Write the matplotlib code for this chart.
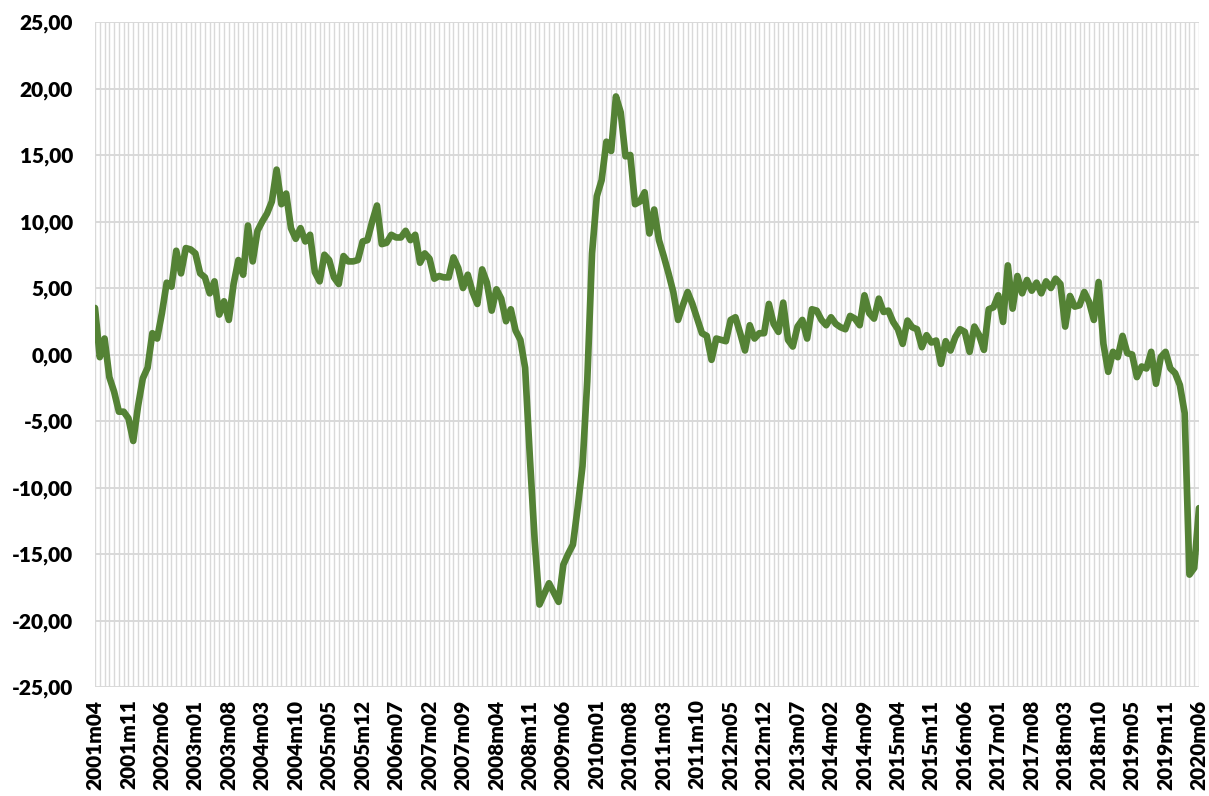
import matplotlib
matplotlib.use("Agg")
import matplotlib.pyplot as plt
from matplotlib.ticker import FuncFormatter, FixedLocator

# ---- data -------------------------------------------------------------
values_2001_2004 = [3.5, -0.2, 1.2, -1.7, -2.8, -4.3, -4.3, -4.8, -6.5, -3.9,
                    -1.8, -1.0, 1.6, 1.2, 3.1, 5.4, 5.1, 7.8, 6.1, 8.0,
                    7.9, 7.6, 6.1, 5.8, 4.6, 5.5, 3.0, 4.0, 2.6, 5.3,
                    7.1, 6.0, 9.7, 7.0, 9.3, 10.0, 10.6, 11.5, 13.9]
values_2004_2007 = [11.3, 12.1, 9.5, 8.7, 9.5, 8.5, 9.0, 6.2, 5.5, 7.5,
                    7.1, 5.8, 5.3, 7.4, 7.0, 7.0, 7.1, 8.5, 8.6, 10.0,
                    11.2, 8.3, 8.4, 9.0, 8.8, 8.8, 9.3, 8.6, 9.0, 6.9,
                    7.6, 7.2, 5.7, 5.9, 5.8, 5.8, 7.3, 6.5, 5.0]
values_2007_2011 = [6.0, 4.7, 3.8, 6.4, 5.4, 3.3, 4.9, 4.2, 2.5, 3.4,
                    1.8, 1.1, -1.0, -7.8, -14.0, -18.8, -18.0, -17.2, -17.9, -18.6,
                    -15.8, -15.0, -14.3, -11.5, -8.4, -2.0, 7.6, 11.9, 13.1, 16.0,
                    15.3, 19.4, 18.2, 14.9, 15.0, 11.3, 11.5, 12.2, 9.1]
values_2011_2014 = [10.9, 8.6, 7.4, 6.1, 4.7, 2.6, 3.7, 4.7, 3.8, 2.7,
                    1.6, 1.4, -0.4, 1.2, 1.1, 1.0, 2.6, 2.8, 1.6, 0.3,
                    2.2, 1.2, 1.6, 1.6, 3.8, 2.3, 1.7, 3.9, 1.1, 0.6,
                    2.1, 2.6, 1.2, 3.4, 3.3, 2.6, 2.2, 2.8, 2.3]
values_2014_2017 = [2.05, 1.9, 2.9, 2.7, 2.2, 4.45, 3.1, 2.7, 4.2, 3.2,
                    3.3, 2.45, 1.9, 0.8, 2.55, 2.05, 1.9, 0.55, 1.45, 0.9,
                    1.05, -0.7, 1.0, 0.3, 1.3, 1.9, 1.7, 0.2, 2.1, 1.45,
                    0.35, 3.4, 3.55, 4.45, 2.45, 6.7, 3.45]
values_2017_2020 = [5.9, 4.6, 5.6, 4.8, 5.4, 4.6, 5.5, 5.0, 5.7, 5.3,
                    2.1, 4.4, 3.6, 3.7, 4.7, 3.95, 2.6, 5.45, 0.8, -1.3,
                    0.2, -0.2, 1.4, 0.1, 0.0, -1.7, -0.9, -1.05, 0.2, -2.2,
                    -0.2, 0.2, -1.05, -1.4, -2.3, -4.4, -16.55, -16.05, -11.55]

tick_labels = ["2001m04", "2001m11", "2002m06", "2003m01", "2003m08", "2004m03",
               "2004m10", "2005m05", "2005m12", "2006m07", "2007m02", "2007m09",
               "2008m04", "2008m11", "2009m06", "2010m01", "2010m08", "2011m03",
               "2011m10", "2012m05", "2012m12", "2013m07", "2014m02", "2014m09",
               "2015m04", "2015m11", "2016m06", "2017m01", "2017m08", "2018m03",
               "2018m10", "2019m05", "2019m11", "2020m06"]
label_step = 7

values = (values_2001_2004 + values_2004_2007 + values_2007_2011 +
          values_2011_2014 + values_2014_2017 + values_2017_2020)
n = len(values)
x = list(range(n))

# ---- figure -----------------------------------------------------------
plt.rcParams['font.family'] = ['Lato', 'DejaVu Sans']
fig = plt.figure(figsize=(12.09, 7.96), dpi=100)
ax = fig.add_axes([95 / 1209, 1 - 687 / 796, (1199 - 95) / 1209, (687 - 22) / 796])

grid_col = "#d9d9d9"
ax.plot(x, values, color="#548235", linewidth=4.8,
        solid_joinstyle="round", solid_capstyle="round", zorder=3)

ax.set_xlim(0, n - 1)
ax.set_ylim(-25, 25)
ax.set_yticks(range(-25, 26, 5))
ax.yaxis.set_major_formatter(FuncFormatter(lambda v, p: f"{v:.2f}".replace(".", ",")))

ax.xaxis.set_major_locator(FixedLocator([i * label_step for i in range(len(tick_labels))]))
ax.set_xticklabels(tick_labels, rotation=90)
ax.xaxis.set_minor_locator(FixedLocator(x))

ax.grid(True, which="both", axis="x", color=grid_col, linewidth=1.0)
ax.grid(True, which="major", axis="y", color=grid_col, linewidth=1.4)
ax.set_axisbelow(True)

for s in ax.spines.values():
    s.set_visible(False)

ax.tick_params(axis="both", which="both", length=0)
ax.tick_params(axis="y", pad=16, labelsize=15)
ax.tick_params(axis="x", pad=9, labelsize=15)
for lab in ax.get_xticklabels() + ax.get_yticklabels():
    lab.set_fontweight("heavy")

fig.savefig("out.png", dpi=100, facecolor="white")
